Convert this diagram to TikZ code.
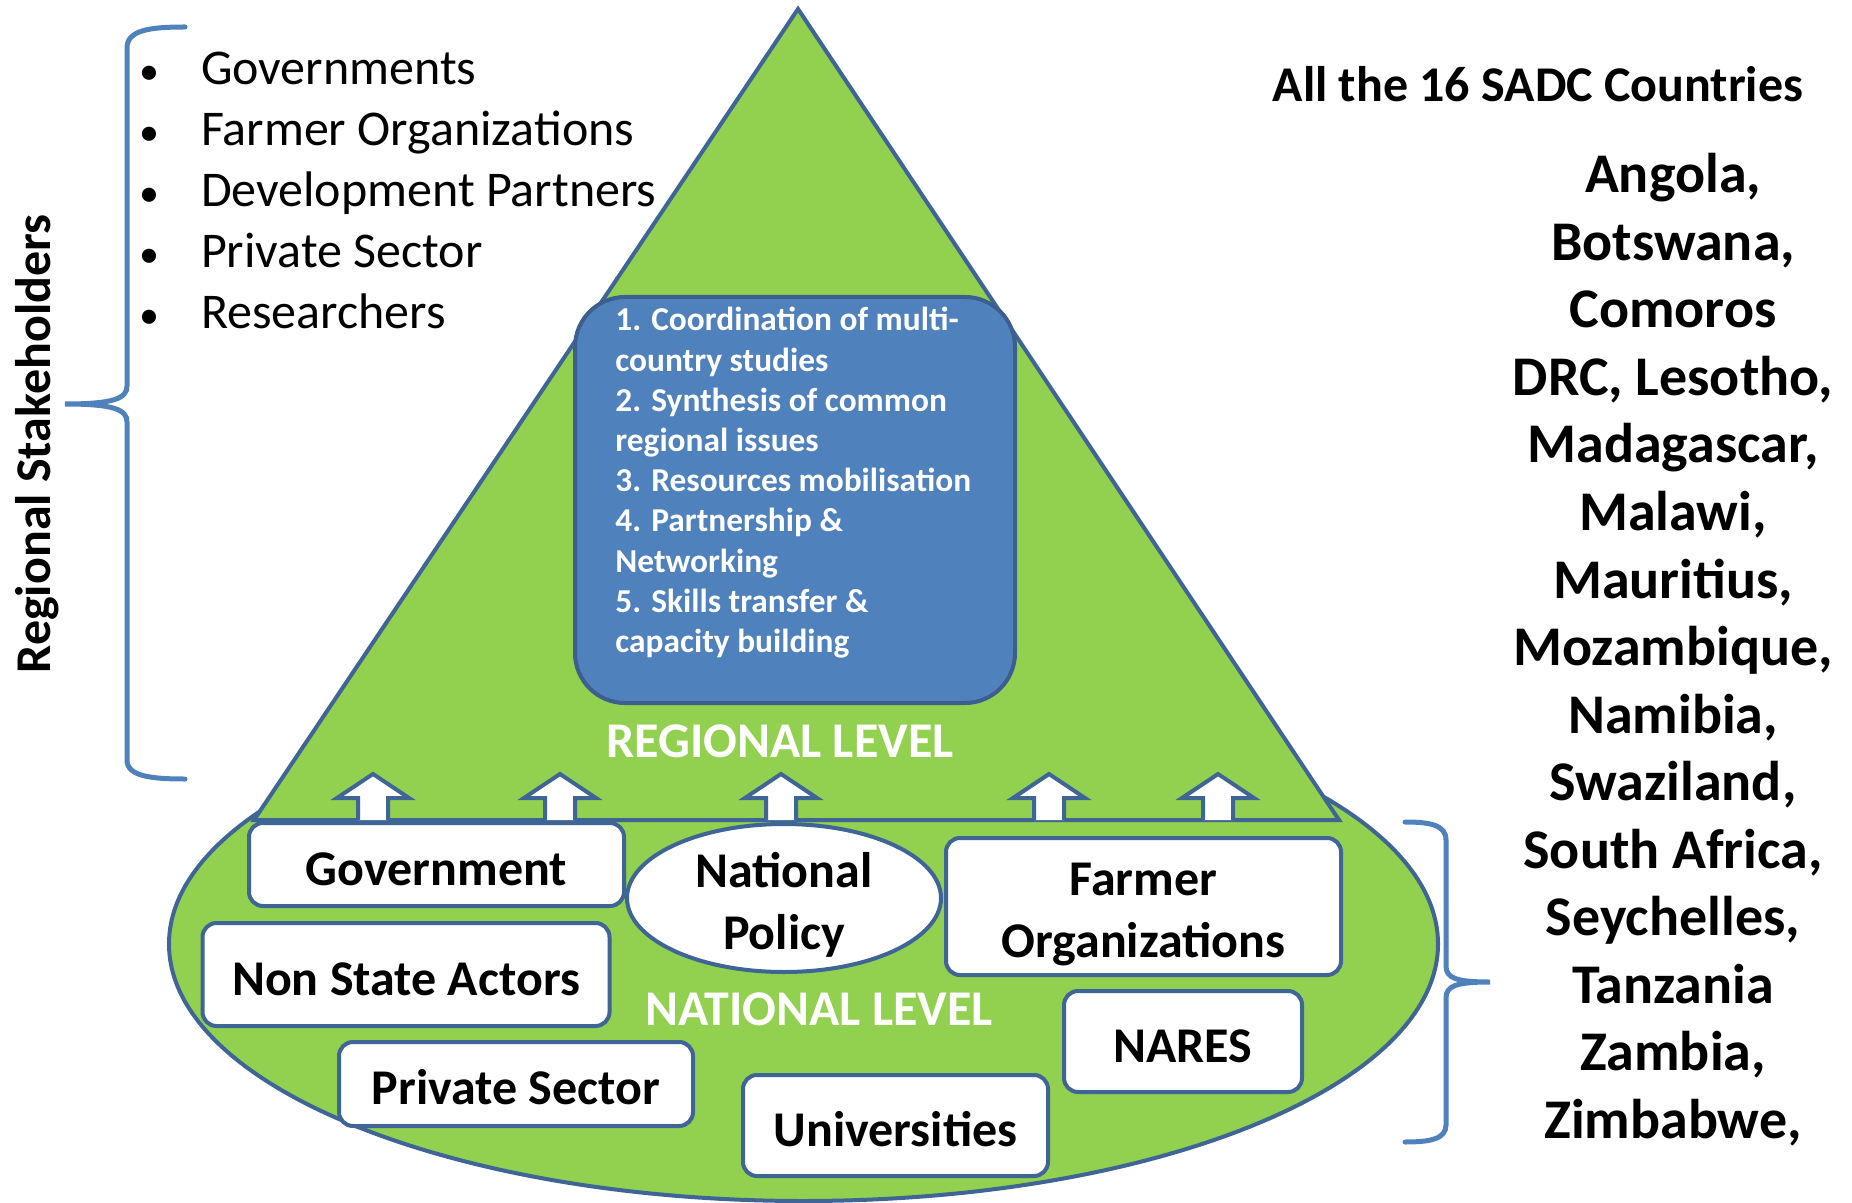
\documentclass[tikz,border=0pt]{standalone}
\usepackage{fontspec}
\setmainfont{Carlito}
\usetikzlibrary{positioning,shapes.geometric}
\definecolor{leafgreen}{HTML}{92D050}
\definecolor{edgeblue}{HTML}{3F6496}
\definecolor{braceblue}{HTML}{4F81BD}
\definecolor{taskblue}{HTML}{4F81BD}
\definecolor{taskedge}{HTML}{3C5F8F}

\begin{document}
\begin{tikzpicture}[x=0.5pt,y=-0.5pt]
	\tikzstyle{level}=[draw=edgeblue, fill=leafgreen, line width=2pt]
	\tikzstyle{actortext}=[align=center, inner sep=0pt, font=\fontsize{25}{31}\selectfont\bfseries]
	\tikzstyle{actor}=[actortext, draw=edgeblue, fill=white, line width=2pt, rounded corners=7pt, text height=20.5pt, text depth=0pt]
	\tikzstyle{brace}=[draw=braceblue, line width=2.5pt, line cap=round]
	\tikzstyle{stake}=[anchor=north west, inner sep=0pt, outer sep=0pt, text height=19pt, text depth=11.4pt, font=\fontsize{25}{30}\selectfont]
	\tikzstyle{country}=[anchor=north, inner sep=0pt, outer sep=0pt, text height=22pt, text depth=11.75pt, font=\fontsize{28}{34}\selectfont\bfseries]
	\tikzstyle{levelname}=[text=white, inner sep=0pt, font=\fontsize{25}{30}\selectfont\bfseries]
	\tikzset{uparrow/.pic={\filldraw[draw=edgeblue, fill=white, line width=2pt] (-15,0) -- (-15,-22) -- (-36,-22) -- (0,-46) -- (36,-22) -- (15,-22) -- (15,0);}}
	\newcommand{\bul}{\makebox[31pt][l]{\fontsize{20}{20}\selectfont •}}
	\useasboundingbox (0,0) rectangle (1852,1203);
		% national level under the regional level
		\node[level, ellipse, minimum width=634.5pt, minimum height=257pt, inner sep=0pt] (natbase) at (803.5,944) {};
		\draw[level] (798,9) -- (254,820) -- (1339,820) -- cycle;
		\node[draw=taskedge, fill=taskblue, line width=2pt, rounded corners=25pt, minimum width=220pt, minimum height=203pt] (tasks) at (795,500) {};
		\node[anchor=north west, inner sep=0pt, align=left, text=white, font=\fontsize{16.7}{20.1}\selectfont\bfseries] (tasklist) at (615,307) {1. Coordination of multi-\\country studies\\2. Synthesis of common\\regional issues\\3. Resources mobilisation\\4. Partnership \&\\Networking\\5. Skills transfer \&\\capacity building};
		\node[levelname] (regional) at (780,741) {REGIONAL LEVEL};
		\node[levelname] (national) at (819,1009) {NATIONAL LEVEL};
			\pic at (373,820) {uparrow};
			\pic at (560,820) {uparrow};
			\pic at (781,820) {uparrow};
			\pic at (1049,820) {uparrow};
			\pic at (1218,820) {uparrow};
		\node[actor, minimum width=187.5pt, minimum height=41.5pt] (gov) at (436.5,864.5) {Government};
		\node[actor, sharp corners, ellipse, minimum width=157pt, minimum height=74pt, text height=0pt, label={[actortext, yshift=-3.5pt]center:National\\Policy}] (policy) at (784,898) {};
		\node[actor, minimum width=197.5pt, minimum height=68.5pt, label={[actortext, yshift=-4pt]center:Farmer\\Organizations}] (farmer) at (1143.5,906.5) {};
		\node[actor, minimum width=203.5pt, minimum height=51.5pt] (nsa) at (406,974.5) {Non State Actors};
		\node[actor, minimum width=119pt, minimum height=50.5pt] (nares) at (1183,1041.5) {NARES};
		\node[actor, minimum width=177pt, minimum height=42pt] (private) at (516,1084) {Private Sector};
		\node[actor, minimum width=152.5pt, minimum height=50.5pt] (univ) at (895.5,1125.5) {Universities};
		% regional stakeholders
		\draw[brace] (185,27) .. controls (150,27) and (127,30) .. (127,48) -- (127,386) .. controls (127,398) and (115,404) .. (65,404) .. controls (115,404) and (127,410) .. (127,422) -- (127,760) .. controls (127,776) and (150,779) .. (185,779);
		\node[rotate=90, font=\fontsize{25}{30}\selectfont\bfseries] (regstake) at (37,444) {Regional Stakeholders};
		\node[stake] (st1) at (139,47) {\bul Governments};
		\node[stake, below=0pt of st1.south west, anchor=north west] (st2) {\bul Farmer Organizations};
		\node[stake, below=0pt of st2.south west, anchor=north west] (st3) {\bul Development Partners};
		\node[stake, below=0pt of st3.south west, anchor=north west] (st4) {\bul Private Sector};
		\node[stake, below=0pt of st4.south west, anchor=north west] (st5) {\bul Researchers};
		% countries
		\draw[brace] (1405,822) .. controls (1430,822) and (1446,825) .. (1446,840) -- (1446,966) .. controls (1446,978) and (1456,982) .. (1490,982) .. controls (1456,982) and (1446,986) .. (1446,998) -- (1446,1125) .. controls (1446,1139) and (1430,1142) .. (1405,1142);
		\node[anchor=base, font=\fontsize{25}{30}\selectfont\bfseries] (sadc) at (1538,102) {All the 16 SADC Countries};
		\node[country] (co1) at (1673,149) {Angola,};
		\node[country] (co2) [below=0pt of co1] {Botswana,};
		\node[country] (co3) [below=0pt of co2] {Comoros};
		\node[country] (co4) [below=0pt of co3] {DRC, Lesotho,};
		\node[country] (co5) [below=0pt of co4] {Madagascar,};
		\node[country] (co6) [below=0pt of co5] {Malawi,};
		\node[country] (co7) [below=0pt of co6] {Mauritius,};
		\node[country] (co8) [below=0pt of co7] {Mozambique,};
		\node[country] (co9) [below=0pt of co8] {Namibia,};
		\node[country] (co10) [below=0pt of co9] {Swaziland,};
		\node[country] (co11) [below=0pt of co10] {South Africa,};
		\node[country] (co12) [below=0pt of co11] {Seychelles,};
		\node[country] (co13) [below=0pt of co12] {Tanzania};
		\node[country] (co14) [below=0pt of co13] {Zambia,};
		\node[country] (co15) [below=0pt of co14] {Zimbabwe,};
\end{tikzpicture}
\end{document}
